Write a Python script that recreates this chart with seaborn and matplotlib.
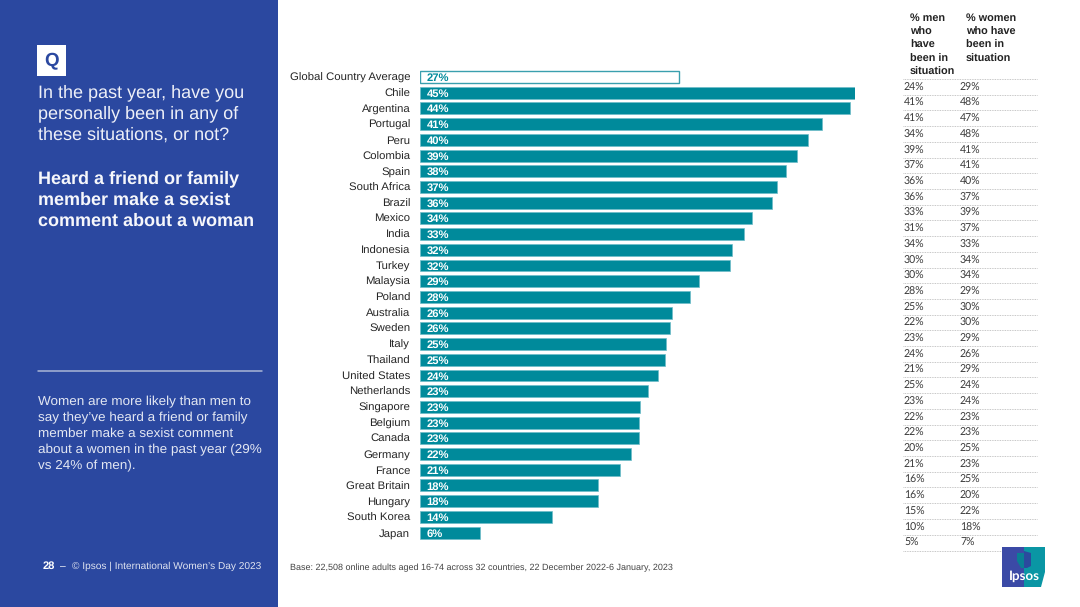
import matplotlib
matplotlib.use("Agg")
import matplotlib.pyplot as plt
import pandas as pd
import seaborn as sns
from matplotlib.patches import Polygon, Rectangle

# chart values
countries = ["Global Country Average", "Chile", "Argentina", "Portugal", "Peru", "Colombia",
             "Spain", "South Africa", "Brazil", "Mexico", "India", "Indonesia", "Turkey",
             "Malaysia", "Poland", "Australia", "Sweden", "Italy", "Thailand", "United States",
             "Netherlands", "Singapore", "Belgium", "Canada", "Germany", "France",
             "Great Britain", "Hungary", "South Korea", "Japan"]
bar_lengths = [26.8, 45.0, 44.5, 41.6, 40.1, 39.0, 37.9, 36.9, 36.4, 34.3, 33.5, 32.3, 32.1,
               28.9, 27.9, 26.1, 25.9, 25.4, 25.3, 24.6, 23.6, 22.8, 22.7, 22.7, 21.8, 20.7,
               18.4, 18.4, 13.7, 6.2]
bar_labels = [27, 45, 44, 41, 40, 39, 38, 37, 36, 34, 33, 32, 32, 29, 28, 26, 26, 25, 25, 24,
              23, 23, 23, 23, 22, 21, 18, 18, 14, 6]
men = [24, 41, 41, 34, 39, 37, 36, 36, 33, 31, 34, 30, 30, 28, 25, 22, 23, 24, 21, 25, 23, 22,
       22, 20, 21, 16, 16, 15, 10, 5]
women = [29, 48, 47, 48, 41, 41, 40, 37, 39, 37, 33, 34, 34, 29, 30, 30, 29, 26, 29, 24, 24, 23,
         23, 25, 23, 25, 20, 22, 18, 7]

BLUE = "#2b48a0"
TEAL = "#008a9b"
W, H = 1080, 607
ROW = 15.71
FIRST_ROW = 77.0

sns.set_theme(style="white")
plt.rcParams["font.family"] = ["Liberation Sans", "DejaVu Sans"]
plt.rcParams["text.hinting"] = "no_hinting"

fig = plt.figure(figsize=(W / 100, H / 100), dpi=100, facecolor="white")

# page layer in pixel coordinates, y going down
page = fig.add_axes([0, 0, 1, 1])
page.set_xlim(0, W)
page.set_ylim(H, 0)
page.axis("off")

page.add_patch(Rectangle((0, 0), 278, H, color=BLUE, lw=0))
page.add_patch(Rectangle((37, 45), 29, 31, color="white", lw=0))
page.text(51.5, 61, "Q", color=BLUE, fontsize=13.5, fontweight="bold", ha="center", va="center")

for y, line in zip([92.5, 114, 135.5], ["In the past year, have you", "personally been in any of",
                                        "these situations, or not?"]):
    page.text(38.5, y, line, color="#eef0f8", fontsize=12.95, va="center")
for y, line in zip([178.5, 200.5, 221.5], ["Heard a friend or family", "member make a sexist",
                                           "comment about a woman"]):
    page.text(38.5, y, line, color="#f6f7fb", fontsize=13, fontweight="bold", va="center")

page.plot([38, 262], [371, 371], color="#aab6d6", lw=1.1)
for y, line in zip([402, 418, 434, 450, 466], ["Women are more likely than men to",
                                               "say they\u2019ve heard a friend or family",
                                               "member make a sexist comment",
                                               "about a women in the past year (29%",
                                               "vs 24% of men)."]):
    page.text(38.5, y, line, color="#e4e8f3", fontsize=9.7, va="center")

page.text(43, 566.5, "28", color="white", fontsize=8, fontweight="bold", va="center")
page.text(60, 566.5, "\u2013", color="white", fontsize=7.4, va="center")
page.text(72, 566.5, "\u00a9 Ipsos | International Women\u2019s Day 2023", color="#dfe3f0",
          fontsize=7.3, va="center")
page.text(290, 567.5, "Base: 22,508 online adults aged 16-74 across 32 countries, 22 December 2022-6 January, 2023",
          color="#444444", fontsize=6.5, va="center")

# men / women table on the right
for x, head in zip([910, 966], [["% men", "who", "have", "been in", "situation"],
                                ["% women", "who have", "been in", "situation"]]):
    for i, line in enumerate(head):
        page.text(x, 18.5 + i * 13.5, line, color="#222222", fontsize=7.8, fontweight="bold", va="center")
for i, (m, f) in enumerate(zip(men, women)):
    y = 87.5 + i * ROW
    page.text(904, y, f"{m}%", color="#3a3a3a", family="Lato", fontsize=7.6, va="center")
    page.text(960, y, f"{f}%", color="#3a3a3a", family="Lato", fontsize=7.6, va="center")
    page.plot([903, 1037], [y - 8.5, y - 8.5], color="#b4b4b4", lw=0.6, ls=(0, (1, 1)))
page.plot([903, 1037], [87.5 + 29 * ROW + 7.5] * 2, color="#b4b4b4", lw=0.6, ls=(0, (1, 1)))

# logo
page.add_patch(Polygon([(1002, 547), (1024, 547), (1024, 587), (1002, 587)], color="#3b4aa6", lw=0, zorder=5))
page.add_patch(Polygon([(1024, 547), (1045, 547), (1045, 572), (1041, 587), (1024, 587)], color="#0a96a4", lw=0, zorder=5))
page.add_patch(Polygon([(1017, 553), (1024, 553), (1024, 568), (1021, 568), (1017, 561)], color="#0a7f94", lw=0, zorder=6))
page.add_patch(Polygon([(1024, 551), (1031, 553), (1031, 566), (1027, 568), (1024, 568)], color="#2b4a9e", lw=0, zorder=6))
page.text(1024, 576.5, "Ipsos", color="white", fontsize=9.6, fontweight="bold", family="Lato",
          ha="center", va="center", zorder=7)

# bar chart: row i centred on FIRST_ROW + i * ROW
top = FIRST_ROW - ROW / 2
bottom = FIRST_ROW + (len(countries) - 0.5) * ROW
ax = fig.add_axes([420 / W, 1 - bottom / H, 435 / W, (bottom - top) / H])
ax.patch.set_alpha(0)

df = pd.DataFrame({"country": countries, "value": bar_lengths})
sns.barplot(data=df, x="value", y="country", color=TEAL, saturation=1, width=0.76, ax=ax)
ax.set_xlim(0, 45)
ax.set_xlabel("")
ax.set_ylabel("")
ax.xaxis.set_visible(False)
sns.despine(ax=ax, left=True, bottom=True, top=True, right=True)
ax.tick_params(axis="y", length=0, pad=7, labelsize=8.2, labelcolor="#262626")

for i, (patch, lab) in enumerate(zip(ax.patches, bar_labels)):
    if i == 0:
        patch.set_facecolor("white")
        patch.set_edgecolor("#3a9fae")
        patch.set_linewidth(1)
    else:
        patch.set_edgecolor("#6fbcc8")
        patch.set_linewidth(0.5)
    ax.text(0.7, i + 0.07, f"{lab}%", color=TEAL if i == 0 else "white", fontsize=8.1,
            fontweight="bold", va="center")

fig.savefig("out.png", dpi=100)
